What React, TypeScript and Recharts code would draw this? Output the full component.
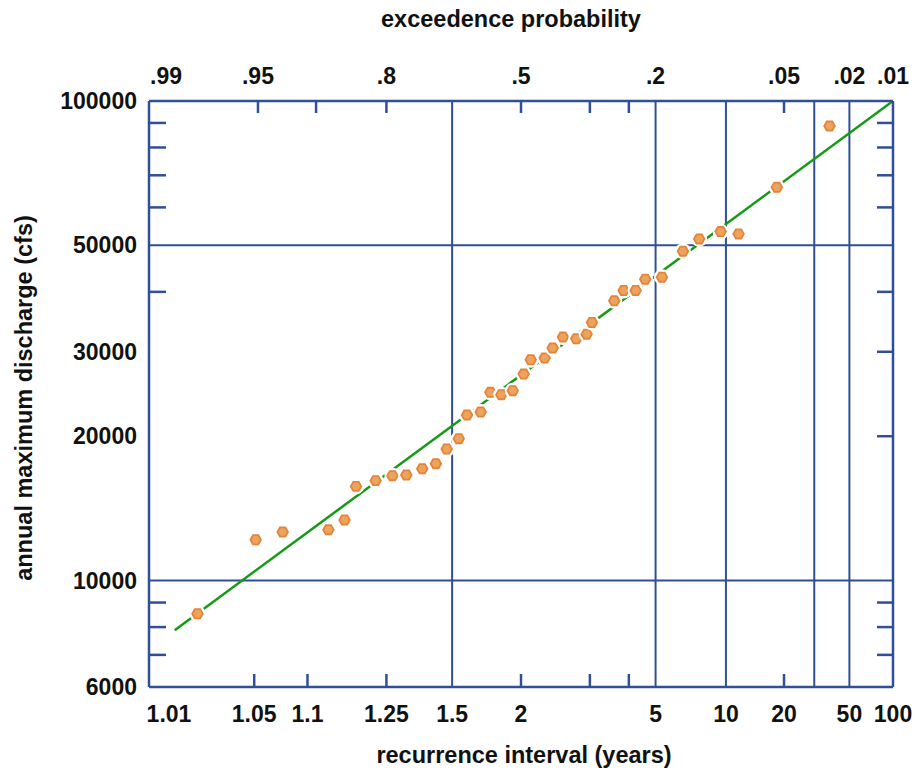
import React from 'react';
import { ComposedChart, XAxis, YAxis, Scatter, Line, ReferenceLine } from 'recharts';

// annual peaks: recurrence interval (years) and discharge (cfs)
const recurrenceYears = [
  1.022, 1.051, 1.073, 1.129, 1.156, 1.178, 1.222, 1.267, 1.31, 1.367,
  1.423, 1.473, 1.535, 1.582, 1.668, 1.736, 1.822, 1.921, 2.027, 2.102,
  2.267, 2.373, 2.522, 2.741, 2.935, 3.043, 3.573, 3.839, 4.224, 4.574,
  5.289, 6.425, 7.544, 9.434, 11.52, 18.25, 37.26,
];
const peakDischarge = [
  8530, 12170, 12630, 12770, 13380, 15720, 16160, 16550, 16600, 17110,
  17530, 18810, 19770, 22140, 22460, 24690, 24420, 24890, 26950, 28870,
  29110, 30540, 32190, 31930, 32650, 34520, 38310, 40250, 40250, 42510,
  42920, 48620, 51580, 53420, 52830, 66100, 88700,
];

// fitted line end points
const fitYears = [1.0154, 100];
const fitDischarge = [7880, 100000];

// axes
const bottomLabelYears = [1.01, 1.05, 1.1, 1.25, 1.5, 2, 5, 10, 20, 50, 100];
const bottomLabels = ['1.01', '1.05', '1.1', '1.25', '1.5', '2', '5', '10', '20', '50', '100'];
const bottomMarkYears = [1.05, 1.1, 1.25, 2, 3, 4, 20];
const topLabelProbs = [0.99, 0.95, 0.8, 0.5, 0.2, 0.05, 0.02, 0.01];
const topLabels = ['.99', '.95', '.8', '.5', '.2', '.05', '.02', '.01'];
const topMarkProbs = [0.95, 0.9, 0.8, 0.5, 1 / 3, 0.25, 0.05];
const leftLabelValues = [6000, 10000, 20000, 30000, 50000, 100000];
const leftMarkValues = [7000, 8000, 9000, 40000, 60000, 70000, 80000, 90000];
const rightMarkValues = [7000, 8000, 9000, 20000, 30000, 40000, 60000, 70000, 80000, 90000];
const gridYears = [1.5, 5, 10, 30, 50];
const gridDischarge = [10000, 50000];
const dischargeRange = [6000, 100000];

const W = 915;
const H = 770;
const AXIS = '#2f4f99';
const FONT = '"Liberation Sans", Arial, Helvetica, sans-serif';

// inverse standard normal (Acklam)
function probit(p: number): number {
  const a = [-39.69683028665376, 220.9460984245205, -275.9285104469687, 138.357751867269, -30.66479806614716, 2.506628277459239];
  const b = [-54.47609879822406, 161.5858368580409, -155.6989798598866, 66.80131188771972, -13.28068155288572];
  const c = [-0.007784894002430293, -0.3223964580411365, -2.400758277161838, -2.549732539343734, 4.374664141464968, 2.938163982698783];
  const d = [0.007784695709041462, 0.3224671290700398, 2.445134137142996, 3.754408661907416];
  const lo = 0.02425;
  if (p < lo) {
    const q = Math.sqrt(-2 * Math.log(p));
    return (((((c[0] * q + c[1]) * q + c[2]) * q + c[3]) * q + c[4]) * q + c[5]) /
      ((((d[0] * q + d[1]) * q + d[2]) * q + d[3]) * q + 1);
  }
  if (p > 1 - lo) {
    const q = Math.sqrt(-2 * Math.log(1 - p));
    return -(((((c[0] * q + c[1]) * q + c[2]) * q + c[3]) * q + c[4]) * q + c[5]) /
      ((((d[0] * q + d[1]) * q + d[2]) * q + d[3]) * q + 1);
  }
  const q = p - 0.5;
  const r = q * q;
  return ((((((a[0] * r + a[1]) * r + a[2]) * r + a[3]) * r + a[4]) * r + a[5]) * q) /
    (((((b[0] * r + b[1]) * r + b[2]) * r + b[3]) * r + b[4]) * r + 1);
}

const zOfProb = (p: number) => probit(1 - p);
const zMin = zOfProb(0.99);
const zMax = zOfProb(0.01);
const clampZ = (z: number) => Math.min(zMax, Math.max(zMin, z));
const zOfYears = (t: number) => clampZ(probit(1 - 1 / t));

type Tk = { z: number; label?: string; mark: boolean };

function buildTicks(labelZ: number[], labels: string[], markZ: number[]): Tk[] {
  const m = new Map<string, Tk>();
  labelZ.forEach((z, i) => m.set(z.toFixed(5), { z, label: labels[i], mark: false }));
  markZ.forEach((z) => {
    const k = z.toFixed(5);
    const t = m.get(k);
    if (t) t.mark = true;
    else m.set(k, { z, mark: true });
  });
  return Array.from(m.values()).sort((p, q) => p.z - q.z);
}

const bottomTicks = buildTicks(bottomLabelYears.map(zOfYears), bottomLabels, bottomMarkYears.map(zOfYears));
const topTicks = buildTicks(topLabelProbs.map((p) => clampZ(zOfProb(p))), topLabels, topMarkProbs.map(zOfProb));
const leftTicks = buildTicks(leftLabelValues, leftLabelValues.map(String), leftMarkValues);

const findTick = (list: Tk[], v: number) => list.find((t) => Math.abs(t.z - v) < 1e-6);

const peaks = recurrenceYears.map((t, i) => ({ z: zOfYears(t), q: peakDischarge[i] }));
const fitData = fitYears.map((t, i) => ({ z: zOfYears(t), q: fitDischarge[i] }));

const labelStyle = { fontFamily: FONT, fontSize: 23, fontWeight: 700, fill: '#111' };

const BottomTick = (props: any) => {
  const { x, y, payload } = props;
  const t = findTick(bottomTicks, payload.value);
  if (!t) return <g />;
  const dx = Math.abs(t.z - zMin) < 1e-6 ? 20 : 0;
  return (
    <g>
      {t.mark && <line x1={x} x2={x} y1={y} y2={y - 13} stroke={AXIS} strokeWidth={2.5} />}
      {t.label && (
        <text x={x + dx} y={y + 35} textAnchor="middle" style={labelStyle}>{t.label}</text>
      )}
    </g>
  );
};

const TopTick = (props: any) => {
  const { x, y, payload } = props;
  const t = findTick(topTicks, payload.value);
  if (!t) return <g />;
  const dx = Math.abs(t.z - zMin) < 1e-6 ? 17 : 0;
  return (
    <g>
      {t.mark && <line x1={x} x2={x} y1={y} y2={y + 12} stroke={AXIS} strokeWidth={2.5} />}
      {t.label && (
        <text x={x + dx} y={y - 17} textAnchor="middle" style={labelStyle}>{t.label}</text>
      )}
    </g>
  );
};

const LeftTick = (props: any) => {
  const { x, y, payload } = props;
  const t = findTick(leftTicks, payload.value);
  if (!t) return <g />;
  return (
    <g>
      {t.mark && <line x1={x} x2={x + 17} y1={y} y2={y} stroke={AXIS} strokeWidth={2.5} />}
      {t.label && (
        <text x={x - 12} y={y + 8} textAnchor="end" style={labelStyle}>{t.label}</text>
      )}
    </g>
  );
};

const RightTick = (props: any) => {
  const { x, y } = props;
  return <line x1={x - 16} x2={x} y1={y} y2={y} stroke={AXIS} strokeWidth={2.5} />;
};

const hexPoints = (cx: number, cy: number, r: number) =>
  [0, 60, 120, 180, 240, 300]
    .map((a) => {
      const rad = (a * Math.PI) / 180;
      return `${cx + r * Math.cos(rad)},${cy + r * Math.sin(rad)}`;
    })
    .join(' ');

const PeakMarker = (props: any) => {
  const { cx, cy } = props;
  return (
    <g>
      <circle cx={cx} cy={cy} r={8} fill="#fff" />
      <polygon points={hexPoints(cx, cy, 5.3)} fill="#eea35d" stroke="#e3843b" strokeWidth={1.8} />
    </g>
  );
};

const titleStyle: React.CSSProperties = { fontFamily: FONT, fontSize: 23.5, fontWeight: 700, fill: '#111' };

export default function App() {
  // fixed to the viewport so the page never scrolls; everything in page pixels
  return (
    <div style={{ position: 'fixed', left: 0, top: 0, width: W, height: H, background: '#fff' }}>
      <ComposedChart width={W} height={H} margin={{ top: 71, right: 12, bottom: 53, left: 89 }}>
        <XAxis
          xAxisId="bottom"
          type="number"
          dataKey="z"
          domain={[zMin, zMax]}
          allowDataOverflow
          ticks={bottomTicks.map((t) => t.z)}
          interval={0}
          height={30}
          tickSize={0}
          tickMargin={0}
          tickLine={false}
          tick={BottomTick}
          axisLine={{ stroke: AXIS, strokeWidth: 2.5 }}
        />
        <XAxis
          xAxisId="top"
          orientation="top"
          type="number"
          dataKey="z"
          domain={[zMin, zMax]}
          allowDataOverflow
          ticks={topTicks.map((t) => t.z)}
          interval={0}
          height={30}
          tickSize={0}
          tickMargin={0}
          tickLine={false}
          tick={TopTick}
          axisLine={{ stroke: AXIS, strokeWidth: 2.5 }}
        />
        <YAxis
          yAxisId="left"
          type="number"
          dataKey="q"
          scale="log"
          domain={dischargeRange}
          allowDataOverflow
          ticks={leftTicks.map((t) => t.z)}
          interval={0}
          width={60}
          tickSize={0}
          tickMargin={0}
          tickLine={false}
          tick={LeftTick}
          axisLine={{ stroke: AXIS, strokeWidth: 2.5 }}
        />
        <YAxis
          yAxisId="right"
          orientation="right"
          type="number"
          dataKey="q"
          scale="log"
          domain={dischargeRange}
          allowDataOverflow
          ticks={rightMarkValues}
          interval={0}
          width={10}
          tickSize={0}
          tickMargin={0}
          tickLine={false}
          tick={RightTick}
          axisLine={{ stroke: AXIS, strokeWidth: 2.5 }}
        />
        {gridYears.map((t) => (
          <ReferenceLine key={`gx${t}`} xAxisId="bottom" yAxisId="left" x={zOfYears(t)} stroke={AXIS} strokeWidth={2} />
        ))}
        {gridDischarge.map((q) => (
          <ReferenceLine key={`gy${q}`} xAxisId="bottom" yAxisId="left" y={q} stroke={AXIS} strokeWidth={2} />
        ))}
        <Line
          data={fitData}
          xAxisId="bottom"
          yAxisId="left"
          dataKey="q"
          type="linear"
          stroke="#149a14"
          strokeWidth={2.5}
          dot={false}
          activeDot={false}
          isAnimationActive={false}
        />
        <Scatter
          data={peaks}
          xAxisId="bottom"
          yAxisId="left"
          dataKey="q"
          shape={PeakMarker}
          isAnimationActive={false}
        />
      </ComposedChart>
      <svg width={W} height={H} style={{ position: 'absolute', left: 0, top: 0, pointerEvents: 'none' }}>
        <text x={511} y={27} textAnchor="middle" style={titleStyle}>exceedence probability</text>
        <text x={524} y={763} textAnchor="middle" style={titleStyle}>recurrence interval (years)</text>
        <text x={32} y={398} textAnchor="middle" transform="rotate(-90 32 398)" style={titleStyle}>
          annual maximum discharge (cfs)
        </text>
      </svg>
    </div>
  );
}
